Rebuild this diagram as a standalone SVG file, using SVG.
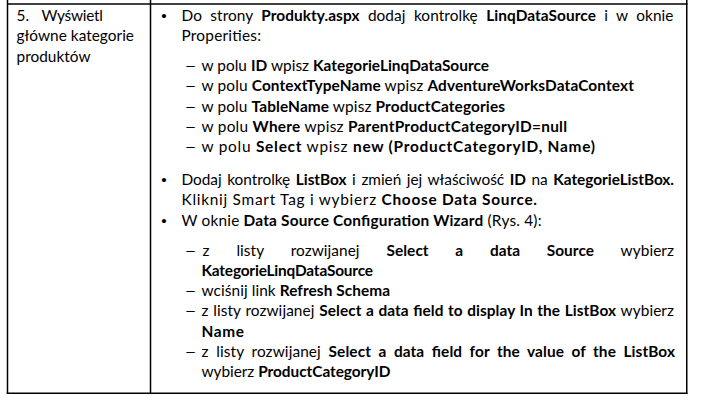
<svg xmlns="http://www.w3.org/2000/svg" width="701" height="404" viewBox="0 0 701 404">
<style>
.t{font-family:Lato,"Liberation Sans",sans-serif;font-size:15.4px;fill:#000}
.b{font-weight:700}
.bul{font-family:"Liberation Sans",sans-serif;font-size:15.4px;fill:#000;text-anchor:middle}
.dash{font-family:Lato,"Liberation Sans",sans-serif;font-size:15.4px;fill:#000}
.grid line{stroke:#000;stroke-width:1.5}
</style>
<rect width="701" height="404" fill="#fff"/>
<g id="grid" class="grid">
<line x1="7" y1="4" x2="687.5" y2="4"/>
<line x1="7.5" y1="0" x2="7.5" y2="394"/>
<line x1="150.5" y1="0" x2="150.5" y2="394"/>
<line x1="686.75" y1="0" x2="686.75" y2="394"/>
<line x1="6.75" y1="393.3" x2="687.5" y2="393.3"/>
</g>
<g id="cell-step">
<text class="t" x="16.5" y="21">5.</text>
<text class="t" x="41.5" y="21" textLength="61.5" lengthAdjust="spacing">Wyświetl</text>
<text class="t" x="16.5" y="41.3" textLength="117.5" lengthAdjust="spacing">główne kategorie</text>
<text class="t" x="16.5" y="61.6" textLength="74" lengthAdjust="spacing">produktów</text>
</g>
<g id="cell-instructions">
<g id="item-1">
<text class="bul" x="164" y="21">•</text>
<text class="t" x="181.5" y="21" textLength="492" lengthAdjust="spacing" word-spacing="4.3">Do strony <tspan class="b">Produkty.aspx</tspan> dodaj kontrolkę <tspan class="b">LinqDataSource</tspan> i w oknie</text>
<text class="t" x="181.5" y="41.3" textLength="79.5" lengthAdjust="spacing">Properities:</text>
<text class="dash" transform="translate(184.5 71) scale(1.35 1)">–</text>
<text class="t" x="201.5" y="71" textLength="287.5" lengthAdjust="spacing">w polu <tspan class="b">ID</tspan> wpisz <tspan class="b">KategorieLinqDataSource</tspan></text>
<text class="dash" transform="translate(184.5 91.3) scale(1.35 1)">–</text>
<text class="t" x="201.5" y="91.3" textLength="432.5" lengthAdjust="spacing">w polu <tspan class="b">ContextTypeName</tspan> wpisz <tspan class="b">AdventureWorksDataContext</tspan></text>
<text class="dash" transform="translate(184.5 111.6) scale(1.35 1)">–</text>
<text class="t" x="201.5" y="111.6" textLength="303.5" lengthAdjust="spacing">w polu <tspan class="b">TableName</tspan> wpisz <tspan class="b">ProductCategories</tspan></text>
<text class="dash" transform="translate(184.5 131.9) scale(1.35 1)">–</text>
<text class="t" x="201.5" y="131.9" textLength="365.5" lengthAdjust="spacing">w polu <tspan class="b">Where</tspan> wpisz <tspan class="b">ParentProductCategoryID=null</tspan></text>
<text class="dash" transform="translate(184.5 152.2) scale(1.35 1)">–</text>
<text class="t" x="201.5" y="152.2" textLength="393.5" lengthAdjust="spacing">w polu <tspan class="b">Select</tspan> wpisz <tspan class="b">new (ProductCategoryID, Name)</tspan></text>
</g>
<g id="item-2">
<text class="bul" x="164" y="185">•</text>
<text class="t" x="181.5" y="185" textLength="492.5" lengthAdjust="spacing" word-spacing="1.7">Dodaj kontrolkę <tspan class="b">ListBox</tspan> i zmień jej właściwość <tspan class="b">ID</tspan> na <tspan class="b">KategorieListBox.</tspan></text>
<text class="t" x="181.5" y="205.3" textLength="355.5" lengthAdjust="spacing">Kliknij Smart Tag i wybierz <tspan class="b">Choose Data Source.</tspan></text>
</g>
<g id="item-3">
<text class="bul" x="164" y="225.6">•</text>
<text class="t" x="181.5" y="225.6" textLength="360" lengthAdjust="spacing">W oknie <tspan class="b">Data Source Configuration Wizard</tspan> (Rys. 4):</text>
<text class="dash" transform="translate(184.5 255.5) scale(1.35 1)">–</text>
<text class="t" x="202.5" y="255.5" textLength="471.5" lengthAdjust="spacing" word-spacing="22.9">z listy rozwijanej <tspan class="b">Select a data Source</tspan> wybierz</text>
<text class="t b" x="201.5" y="275.8" textLength="171.5" lengthAdjust="spacing">KategorieLinqDataSource</text>
<text class="dash" transform="translate(184.5 296.1) scale(1.35 1)">–</text>
<text class="t" x="201.5" y="296.1" textLength="188.5" lengthAdjust="spacing">wciśnij link <tspan class="b">Refresh Schema</tspan></text>
<text class="dash" transform="translate(184.5 316.4) scale(1.35 1)">–</text>
<text class="t" x="201.5" y="316.4" textLength="472.5" lengthAdjust="spacing" word-spacing="0.7">z listy rozwijanej <tspan class="b">Select a data field to display In the ListBox</tspan> wybierz</text>
<text class="t b" x="201.5" y="336.7" textLength="42.5" lengthAdjust="spacing">Name</text>
<text class="dash" transform="translate(184.5 357) scale(1.35 1)">–</text>
<text class="t" x="201.5" y="357" textLength="473.5" lengthAdjust="spacing" word-spacing="3.65">z listy rozwijanej <tspan class="b">Select a data field for the value of the ListBox</tspan></text>
<text class="t" x="201.5" y="377.3" textLength="189" lengthAdjust="spacing">wybierz <tspan class="b">ProductCategoryID</tspan></text>
</g>
</g>
</svg>
